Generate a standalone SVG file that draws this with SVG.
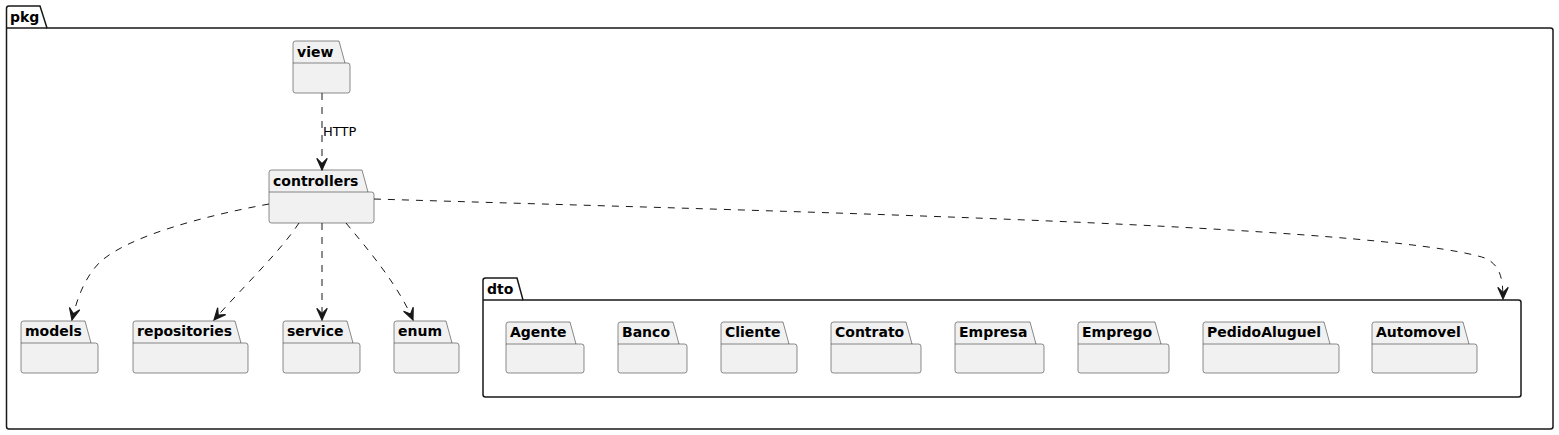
<svg xmlns="http://www.w3.org/2000/svg" width="1559" height="435" viewBox="0 0 1559 435">
<defs>
<style>
.frame{fill:none;stroke:#181818;stroke-width:1.5}
.pk{fill:#F1F1F1;stroke:#181818;stroke-width:0.5}
.pkl{stroke:#181818;stroke-width:0.5}
.fl{stroke:#181818;stroke-width:1.5}
.t{font-family:"DejaVu Sans",sans-serif;font-size:14px;font-weight:bold;fill:#000}
.lbl{font-family:"DejaVu Sans",sans-serif;font-size:13px;fill:#000}
.c{fill:none;stroke:#181818;stroke-width:1;stroke-dasharray:7,7}
</style>
<marker id="ah" markerUnits="userSpaceOnUse" markerWidth="14" markerHeight="14" viewBox="-11 -6 12 12" refX="0" refY="0" orient="auto">
<path d="M0,0 L-10,-4.5 L-5.5,0 L-10,4.5 Z" fill="#181818" stroke="#181818" stroke-width="1"/>
</marker>
</defs>
<rect width="1559" height="435" fill="#FFFFFF"/>
<g id="pkg">
<path class="frame" d="M6.5,8.5 A2.5,2.5 0 0 1 9,6 L40,6 L47,28 L1550.5,28 A2.5,2.5 0 0 1 1553,30.5 L1553,426.5 A2.5,2.5 0 0 1 1550.5,429 L9,429 A2.5,2.5 0 0 1 6.5,426.5 Z"/>
<line class="fl" x1="6.5" y1="28" x2="47" y2="28"/>
<text class="t" x="10" y="22">pkg</text>
</g>
<g id="dto">
<path class="frame" d="M483,280.5 A2.5,2.5 0 0 1 485.5,278 L517,278 L523,300 L1518.5,300 A2.5,2.5 0 0 1 1521,302.5 L1521,394.5 A2.5,2.5 0 0 1 1518.5,397 L485.5,397 A2.5,2.5 0 0 1 483,394.5 Z"/>
<line class="fl" x1="483" y1="300" x2="523" y2="300"/>
<text class="t" x="487" y="294">dto</text>
</g>
<g id="view">
<path class="pk" d="M293,43.5 A2.5,2.5 0 0 1 295.5,41 L339,41 L345,63 L347.5,63 A2.5,2.5 0 0 1 350,65.5 L350,90.5 A2.5,2.5 0 0 1 347.5,93 L295.5,93 A2.5,2.5 0 0 1 293,90.5 Z"/>
<line class="pkl" x1="293" y1="63" x2="345" y2="63"/>
<text class="t" x="297" y="57">view</text>
</g>
<g id="controllers">
<path class="pk" d="M269,172.5 A2.5,2.5 0 0 1 271.5,170 L362,170 L368,192 L371.5,192 A2.5,2.5 0 0 1 374,194.5 L374,220.5 A2.5,2.5 0 0 1 371.5,223 L271.5,223 A2.5,2.5 0 0 1 269,220.5 Z"/>
<line class="pkl" x1="269" y1="192" x2="368" y2="192"/>
<text class="t" x="273" y="186">controllers</text>
</g>
<g id="models">
<path class="pk" d="M21,323.5 A2.5,2.5 0 0 1 23.5,321 L85,321 L91,343 L95.5,343 A2.5,2.5 0 0 1 98,345.5 L98,370.5 A2.5,2.5 0 0 1 95.5,373 L23.5,373 A2.5,2.5 0 0 1 21,370.5 Z"/>
<line class="pkl" x1="21" y1="343" x2="91" y2="343"/>
<text class="t" x="25" y="336">models</text>
</g>
<g id="repositories">
<path class="pk" d="M133,323.5 A2.5,2.5 0 0 1 135.5,321 L235,321 L241,343 L245.5,343 A2.5,2.5 0 0 1 248,345.5 L248,370.5 A2.5,2.5 0 0 1 245.5,373 L135.5,373 A2.5,2.5 0 0 1 133,370.5 Z"/>
<line class="pkl" x1="133" y1="343" x2="241" y2="343"/>
<text class="t" x="137" y="336">repositories</text>
</g>
<g id="service">
<path class="pk" d="M283,323.5 A2.5,2.5 0 0 1 285.5,321 L347,321 L353,343 L357.5,343 A2.5,2.5 0 0 1 360,345.5 L360,370.5 A2.5,2.5 0 0 1 357.5,373 L285.5,373 A2.5,2.5 0 0 1 283,370.5 Z"/>
<line class="pkl" x1="283" y1="343" x2="353" y2="343"/>
<text class="t" x="287" y="336">service</text>
</g>
<g id="enum">
<path class="pk" d="M394,323.5 A2.5,2.5 0 0 1 396.5,321 L446,321 L452,343 L456.5,343 A2.5,2.5 0 0 1 459,345.5 L459,370.5 A2.5,2.5 0 0 1 456.5,373 L396.5,373 A2.5,2.5 0 0 1 394,370.5 Z"/>
<line class="pkl" x1="394" y1="343" x2="452" y2="343"/>
<text class="t" x="398" y="336">enum</text>
</g>
<g id="Agente">
<path class="pk" d="M506,324.5 A2.5,2.5 0 0 1 508.5,322 L570,322 L576,344 L581.5,344 A2.5,2.5 0 0 1 584,346.5 L584,370.5 A2.5,2.5 0 0 1 581.5,373 L508.5,373 A2.5,2.5 0 0 1 506,370.5 Z"/>
<line class="pkl" x1="506" y1="344" x2="576" y2="344"/>
<text class="t" x="510" y="337">Agente</text>
</g>
<g id="Banco">
<path class="pk" d="M618,324.5 A2.5,2.5 0 0 1 620.5,322 L673,322 L679,344 L684.5,344 A2.5,2.5 0 0 1 687,346.5 L687,370.5 A2.5,2.5 0 0 1 684.5,373 L620.5,373 A2.5,2.5 0 0 1 618,370.5 Z"/>
<line class="pkl" x1="618" y1="344" x2="679" y2="344"/>
<text class="t" x="622" y="337">Banco</text>
</g>
<g id="Cliente">
<path class="pk" d="M721,324.5 A2.5,2.5 0 0 1 723.5,322 L783,322 L789,344 L794.5,344 A2.5,2.5 0 0 1 797,346.5 L797,370.5 A2.5,2.5 0 0 1 794.5,373 L723.5,373 A2.5,2.5 0 0 1 721,370.5 Z"/>
<line class="pkl" x1="721" y1="344" x2="789" y2="344"/>
<text class="t" x="725" y="337">Cliente</text>
</g>
<g id="Contrato">
<path class="pk" d="M831,324.5 A2.5,2.5 0 0 1 833.5,322 L906,322 L912,344 L918.5,344 A2.5,2.5 0 0 1 921,346.5 L921,370.5 A2.5,2.5 0 0 1 918.5,373 L833.5,373 A2.5,2.5 0 0 1 831,370.5 Z"/>
<line class="pkl" x1="831" y1="344" x2="912" y2="344"/>
<text class="t" x="835" y="337">Contrato</text>
</g>
<g id="Empresa">
<path class="pk" d="M955,324.5 A2.5,2.5 0 0 1 957.5,322 L1030,322 L1036,344 L1041.5,344 A2.5,2.5 0 0 1 1044,346.5 L1044,370.5 A2.5,2.5 0 0 1 1041.5,373 L957.5,373 A2.5,2.5 0 0 1 955,370.5 Z"/>
<line class="pkl" x1="955" y1="344" x2="1036" y2="344"/>
<text class="t" x="959" y="337">Empresa</text>
</g>
<g id="Emprego">
<path class="pk" d="M1078,324.5 A2.5,2.5 0 0 1 1080.5,322 L1155,322 L1161,344 L1166.5,344 A2.5,2.5 0 0 1 1169,346.5 L1169,370.5 A2.5,2.5 0 0 1 1166.5,373 L1080.5,373 A2.5,2.5 0 0 1 1078,370.5 Z"/>
<line class="pkl" x1="1078" y1="344" x2="1161" y2="344"/>
<text class="t" x="1082" y="337">Emprego</text>
</g>
<g id="PedidoAluguel">
<path class="pk" d="M1203,324.5 A2.5,2.5 0 0 1 1205.5,322 L1324,322 L1330,344 L1336.5,344 A2.5,2.5 0 0 1 1339,346.5 L1339,370.5 A2.5,2.5 0 0 1 1336.5,373 L1205.5,373 A2.5,2.5 0 0 1 1203,370.5 Z"/>
<line class="pkl" x1="1203" y1="344" x2="1330" y2="344"/>
<text class="t" x="1207" y="337">PedidoAluguel</text>
</g>
<g id="Automovel">
<path class="pk" d="M1372,324.5 A2.5,2.5 0 0 1 1374.5,322 L1463,322 L1469,344 L1474.5,344 A2.5,2.5 0 0 1 1477,346.5 L1477,370.5 A2.5,2.5 0 0 1 1474.5,373 L1374.5,373 A2.5,2.5 0 0 1 1372,370.5 Z"/>
<line class="pkl" x1="1372" y1="344" x2="1469" y2="344"/>
<text class="t" x="1376" y="337">Automovel</text>
</g>
<g id="connectors">
<path class="c" marker-end="url(#ah)" d="M322,93 L322,170"/>
<text class="lbl" x="323" y="136">HTTP</text>
<path class="c" marker-end="url(#ah)" d="M269,204 C209,215 130,235 100,262 C85,277 77,298 72,320"/>
<path class="c" marker-end="url(#ah)" d="M299,223 C280,252 240,290 214,320"/>
<path class="c" marker-end="url(#ah)" d="M322,223 L322,320"/>
<path class="c" marker-end="url(#ah)" d="M346,223 C370,252 398,285 413,320"/>
<path class="c" marker-end="url(#ah)" d="M374,199 C800,212 1380,225 1485,258 C1500,265 1503,278 1503,299"/>
</g>
</svg>
